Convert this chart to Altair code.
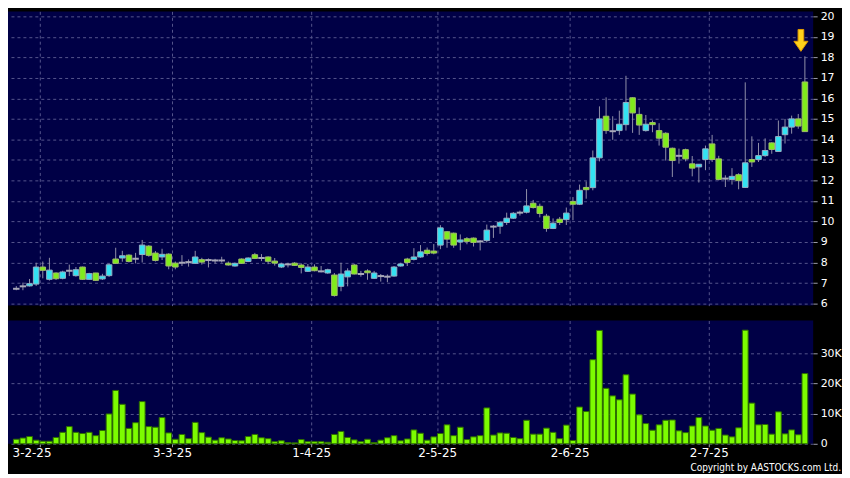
import altair as alt
import pandas as pd
import numpy as np

# ---------------- data ----------------
opens = [6.72, 6.84, 6.86, 6.95, 7.78, 7.18, 7.49, 7.23, 7.60, 7.36,
         7.78, 7.18, 7.49, 7.20, 7.36, 8.17, 8.22, 8.36, 8.18, 8.39,
         8.80, 8.46, 8.27, 8.41, 7.97, 7.99, 8.02, 7.96, 8.14, 8.12,
         8.10, 8.10, 7.97, 7.83, 8.17, 8.05, 8.38, 8.22, 8.27, 8.07,
         7.78, 7.91, 7.97, 7.88, 7.57, 7.78, 7.57, 7.49, 7.39, 6.84,
         7.30, 7.88, 7.44, 7.59, 7.23, 7.34, 7.31, 7.34, 7.83, 8.17,
         8.15, 8.27, 8.60, 8.56, 8.85, 9.50, 9.43, 9.00, 9.16, 9.19,
         9.03, 9.07, 9.75, 9.77, 9.95, 10.16, 10.43, 10.45, 10.89, 10.74,
         10.26, 9.66, 10.11, 10.09, 10.98, 10.84, 11.66, 11.65, 13.10, 15.13,
         14.40, 14.43, 14.72, 16.03, 15.22, 14.43, 14.82, 14.43, 14.30, 13.57,
         13.20, 13.50, 12.81, 12.66, 13.02, 13.78, 13.05, 12.09, 12.05, 12.28,
         11.66, 13.02, 13.02, 13.21, 13.83, 13.41, 14.23, 14.60, 15.00, 16.80]
highs = [6.85, 7.02, 7.20, 7.99, 8.05, 8.23, 7.52, 7.60, 7.90, 7.78,
         7.80, 7.50, 7.50, 7.45, 7.95, 8.72, 8.57, 8.40, 8.47, 9.10,
         8.85, 8.56, 8.67, 8.45, 8.05, 8.36, 8.15, 8.57, 8.23, 8.20,
         8.18, 8.28, 8.05, 8.00, 8.20, 8.25, 8.47, 8.41, 8.30, 8.22,
         7.99, 7.99, 8.02, 7.96, 7.93, 7.91, 7.83, 7.70, 7.49, 7.99,
         7.72, 7.93, 7.59, 7.67, 7.59, 7.44, 7.42, 7.83, 7.99, 8.23,
         8.70, 8.85, 8.73, 8.90, 9.82, 9.53, 9.46, 9.37, 9.24, 9.22,
         9.09, 9.85, 9.82, 10.02, 10.43, 10.46, 10.53, 11.58, 11.05, 10.87,
         10.37, 10.15, 10.22, 10.68, 11.19, 11.80, 11.95, 13.46, 15.61, 16.05,
         15.13, 15.40, 17.10, 16.05, 15.56, 15.19, 14.92, 14.79, 14.35, 13.60,
         13.55, 13.55, 13.19, 12.79, 13.70, 14.22, 13.20, 12.25, 12.60, 12.35,
         16.78, 14.15, 13.83, 14.05, 13.86, 14.92, 15.00, 15.16, 15.24, 18.05]
lows = [6.65, 6.65, 6.83, 6.86, 7.23, 7.12, 7.15, 7.18, 7.34, 7.31,
        7.15, 7.15, 7.10, 7.15, 7.30, 7.93, 8.04, 8.00, 7.96, 8.00,
        8.28, 8.05, 8.12, 7.67, 7.67, 7.83, 7.80, 7.93, 7.90, 7.76,
        7.95, 8.00, 7.85, 7.80, 7.93, 8.02, 8.17, 8.07, 7.92, 7.85,
        7.73, 7.76, 7.84, 7.47, 7.54, 7.57, 7.52, 7.45, 6.34, 6.60,
        6.84, 7.42, 7.31, 7.16, 7.20, 7.07, 7.04, 7.31, 7.80, 7.83,
        8.10, 8.23, 8.34, 8.40, 8.65, 8.72, 8.72, 8.60, 8.89, 8.78,
        8.59, 8.98, 9.20, 9.40, 9.83, 10.12, 10.29, 10.39, 10.63, 10.20,
        9.50, 9.63, 9.83, 9.83, 10.06, 10.80, 11.11, 11.52, 12.93, 14.27,
        13.98, 14.22, 14.43, 14.32, 14.22, 14.38, 14.35, 13.70, 12.97, 12.17,
        12.82, 12.93, 12.20, 11.90, 12.50, 12.90, 12.00, 11.68, 11.80, 11.57,
        11.64, 12.66, 12.90, 13.15, 13.30, 13.41, 13.80, 14.28, 14.52, 14.38]
closes = [6.72, 6.84, 6.97, 7.78, 7.62, 7.63, 7.21, 7.54, 7.60, 7.65,
          7.18, 7.46, 7.13, 7.34, 7.89, 7.96, 8.33, 8.05, 8.18, 8.85,
          8.35, 8.10, 8.40, 7.83, 7.78, 7.99, 8.02, 8.27, 8.02, 8.12,
          8.10, 8.10, 7.88, 7.96, 7.96, 8.22, 8.20, 8.22, 8.06, 7.97,
          7.93, 7.91, 7.86, 7.76, 7.78, 7.60, 7.57, 7.65, 6.39, 7.44,
          7.59, 7.44, 7.44, 7.50, 7.49, 7.34, 7.31, 7.78, 7.93, 8.00,
          8.27, 8.52, 8.44, 8.46, 9.69, 9.14, 8.85, 9.10, 9.03, 8.98,
          9.03, 9.58, 9.75, 9.96, 10.16, 10.40, 10.43, 10.76, 10.68, 10.39,
          9.66, 9.92, 9.95, 10.41, 10.84, 11.52, 11.55, 13.10, 15.00, 14.43,
          14.40, 14.74, 15.80, 15.29, 14.70, 14.74, 14.72, 14.06, 13.62, 12.97,
          13.20, 13.05, 12.60, 12.79, 13.54, 13.02, 12.05, 12.09, 12.20, 11.99,
          12.86, 12.90, 13.21, 13.46, 13.51, 14.14, 14.60, 15.00, 14.65, 14.38]
volumes_k = [1.5, 1.9, 2.4, 1.2, 0.85, 0.85, 2.1, 3.8, 5.7, 3.8,
             3.4, 3.8, 2.7, 4.4, 9.9, 17.7, 13.1, 5.1, 7.0, 14.0,
             5.7, 5.5, 8.7, 3.6, 1.5, 3.1, 1.7, 7.1, 3.7, 2.2,
             1.2, 2.0, 1.6, 1.1, 1.0, 2.4, 3.1, 2.0, 1.7, 0.7,
             1.0, 0.4, 0.3, 1.4, 0.7, 0.7, 0.7, 0.5, 3.1, 4.1,
             2.1, 1.3, 0.7, 1.5, 0.4, 1.2, 2.0, 2.7, 1.0, 1.6,
             4.6, 3.5, 1.2, 2.3, 3.4, 6.3, 2.7, 5.5, 1.4, 2.3,
             2.7, 11.9, 2.9, 3.6, 3.5, 2.1, 1.7, 7.8, 3.2, 3.2,
             5.2, 3.8, 1.7, 6.2, 1.1, 12.2, 10.7, 27.9, 37.6, 18.4,
             15.9, 14.6, 22.9, 16.5, 9.6, 6.7, 4.5, 6.3, 7.8, 7.9,
             4.3, 3.7, 5.9, 8.7, 5.9, 4.5, 5.1, 2.9, 2.3, 5.3,
             37.7, 13.5, 6.3, 6.4, 3.2, 10.6, 3.3, 4.6, 3.0, 23.3]

tick_index = [4, 24, 45, 64, 84, 105]          # trading-day boundaries of the labelled dates
tick_labels = ["3-2-25", "3-3-25", "1-4-25", "2-5-25", "2-6-25", "2-7-25"]
price_ticks = list(range(6, 21))
volume_ticks = [0, 10000, 20000, 30000]
copyright_text = "Copyright by AASTOCKS.com Ltd."

# ---------------- styling ----------------
NAVY = "#000046"
GRID = "#55558c"
CYAN = "#33e2f2"
CYAN_EDGE = "#94aec4"
GREEN = "#80ec1c"
GREEN_EDGE = "#a0bc6a"
FLAT = "#a8a8b8"
WICK = "#9090a8"
VOL_FILL = "#7cfc00"
VOL_EDGE = "#2e6e00"
FONT = "DejaVu Sans"

n = len(opens)
df = pd.DataFrame({
    "i": [k + 0.5 for k in range(n)],
    "open": opens, "high": highs, "low": lows, "close": closes,
    "volume": [v * 1000 for v in volumes_k],
})
df["dir"] = np.where(df["close"] > df["open"], "up",
                     np.where(df["close"] < df["open"], "down", "flat"))

label_expr = " : ".join(f"datum.value == {p} ? '{t}'" for p, t in zip(tick_index, tick_labels)) + " : ''"

W = 810
H_PRICE = 296
H_VOL = 124

x_scale = alt.Scale(domain=[0, n], nice=False, zero=False)

base = alt.Chart(df)

x_top = alt.X("i:Q", scale=x_scale,
              axis=alt.Axis(values=tick_index, labels=False, ticks=False, domain=False,
                            grid=True, title=None))
y_price_scale = alt.Scale(domain=[5.90, 20.24], nice=False, zero=False)
y_price_axis = alt.Axis(orient="right", values=price_ticks, title=None, domain=False,
                        tickSize=4, tickColor="#9a9aaa", labelPadding=3,
                        labelFontSize=11, grid=True)

wicks = base.mark_rule(color=WICK, strokeWidth=1).encode(
    x=x_top,
    y=alt.Y("low:Q", scale=y_price_scale, axis=y_price_axis),
    y2="high:Q",
)
bodies = base.transform_filter("datum.dir != 'flat'").mark_bar(width=5.6, strokeWidth=1).encode(
    x=x_top,
    y=alt.Y("open:Q", scale=y_price_scale, axis=y_price_axis),
    y2="close:Q",
    fill=alt.Fill("dir:N", scale=alt.Scale(domain=["up", "down"], range=[CYAN, GREEN]), legend=None),
    stroke=alt.Stroke("dir:N", scale=alt.Scale(domain=["up", "down"], range=[CYAN_EDGE, GREEN_EDGE]), legend=None),
)
flats = base.transform_filter("datum.dir == 'flat'").mark_tick(
    orient="horizontal", size=6.5, thickness=2, color=FLAT, opacity=1
).encode(
    x=x_top,
    y=alt.Y("open:Q", scale=y_price_scale, axis=y_price_axis),
)
arrow_path = "M -0.26 -1 L 0.26 -1 L 0.26 0.08 L 0.64 0.08 L 0 1 L -0.64 0.08 L -0.26 0.08 Z"
arrow = base.transform_filter(f"datum.i == {n - 0.5}").mark_point(
    shape=arrow_path, size=484, filled=True, fill="#ffd21a", stroke="#e09a00",
    strokeWidth=1, opacity=1, xOffset=-4, yOffset=-16
).encode(
    x=x_top,
    y=alt.Y("high:Q", scale=y_price_scale, axis=y_price_axis),
)

price = alt.layer(wicks, bodies, flats, arrow).properties(width=W, height=H_PRICE)

x_bot = alt.X("i:Q", scale=x_scale,
              axis=alt.Axis(values=tick_index, labelExpr=label_expr, ticks=True, tickSize=3,
                            tickColor="#9a9aaa", domain=False, grid=True, title=None,
                            labelFontSize=12, labelPadding=1, labelFlush=False,
                            labelOffset={"condition": {"test": "datum.value == 4", "value": -8},
                                         "value": 0}))
vol_bars = base.mark_bar(width=5.8, fill=VOL_FILL, stroke=VOL_EDGE, strokeWidth=1).encode(
    x=x_bot,
    y=alt.Y("volume:Q", scale=alt.Scale(domain=[0, 40900], nice=False),
            axis=alt.Axis(orient="right", values=volume_ticks, title=None, domain=False,
                          tickSize=4, tickColor="#9a9aaa", labelPadding=3, labelFontSize=11,
                          grid=True,
                          labelExpr="datum.value == 0 ? '0' : (datum.value / 1000) + 'K'")),
)
copyright = alt.Chart(pd.DataFrame({"t": [copyright_text]})).mark_text(
    align="right", baseline="bottom", fontSize=10, color="white",
    font="DejaVu Sans Condensed, Liberation Sans Narrow, DejaVu Sans"
).encode(x=alt.value(838), y=alt.value(H_VOL + 29), text="t:N")

volume = alt.layer(vol_bars, copyright).properties(width=W, height=H_VOL)

chart = alt.vconcat(price, volume, spacing=12).configure(
    background="#000000", padding=0
).configure_view(
    fill=NAVY, stroke=None
).configure_axis(
    gridColor=GRID, gridDash=[3, 3], gridWidth=1, gridOpacity=1,
    labelColor="#ffffff", labelFont=FONT,
)

chart.save("out.html", embed_options={"renderer": "svg", "actions": False})
